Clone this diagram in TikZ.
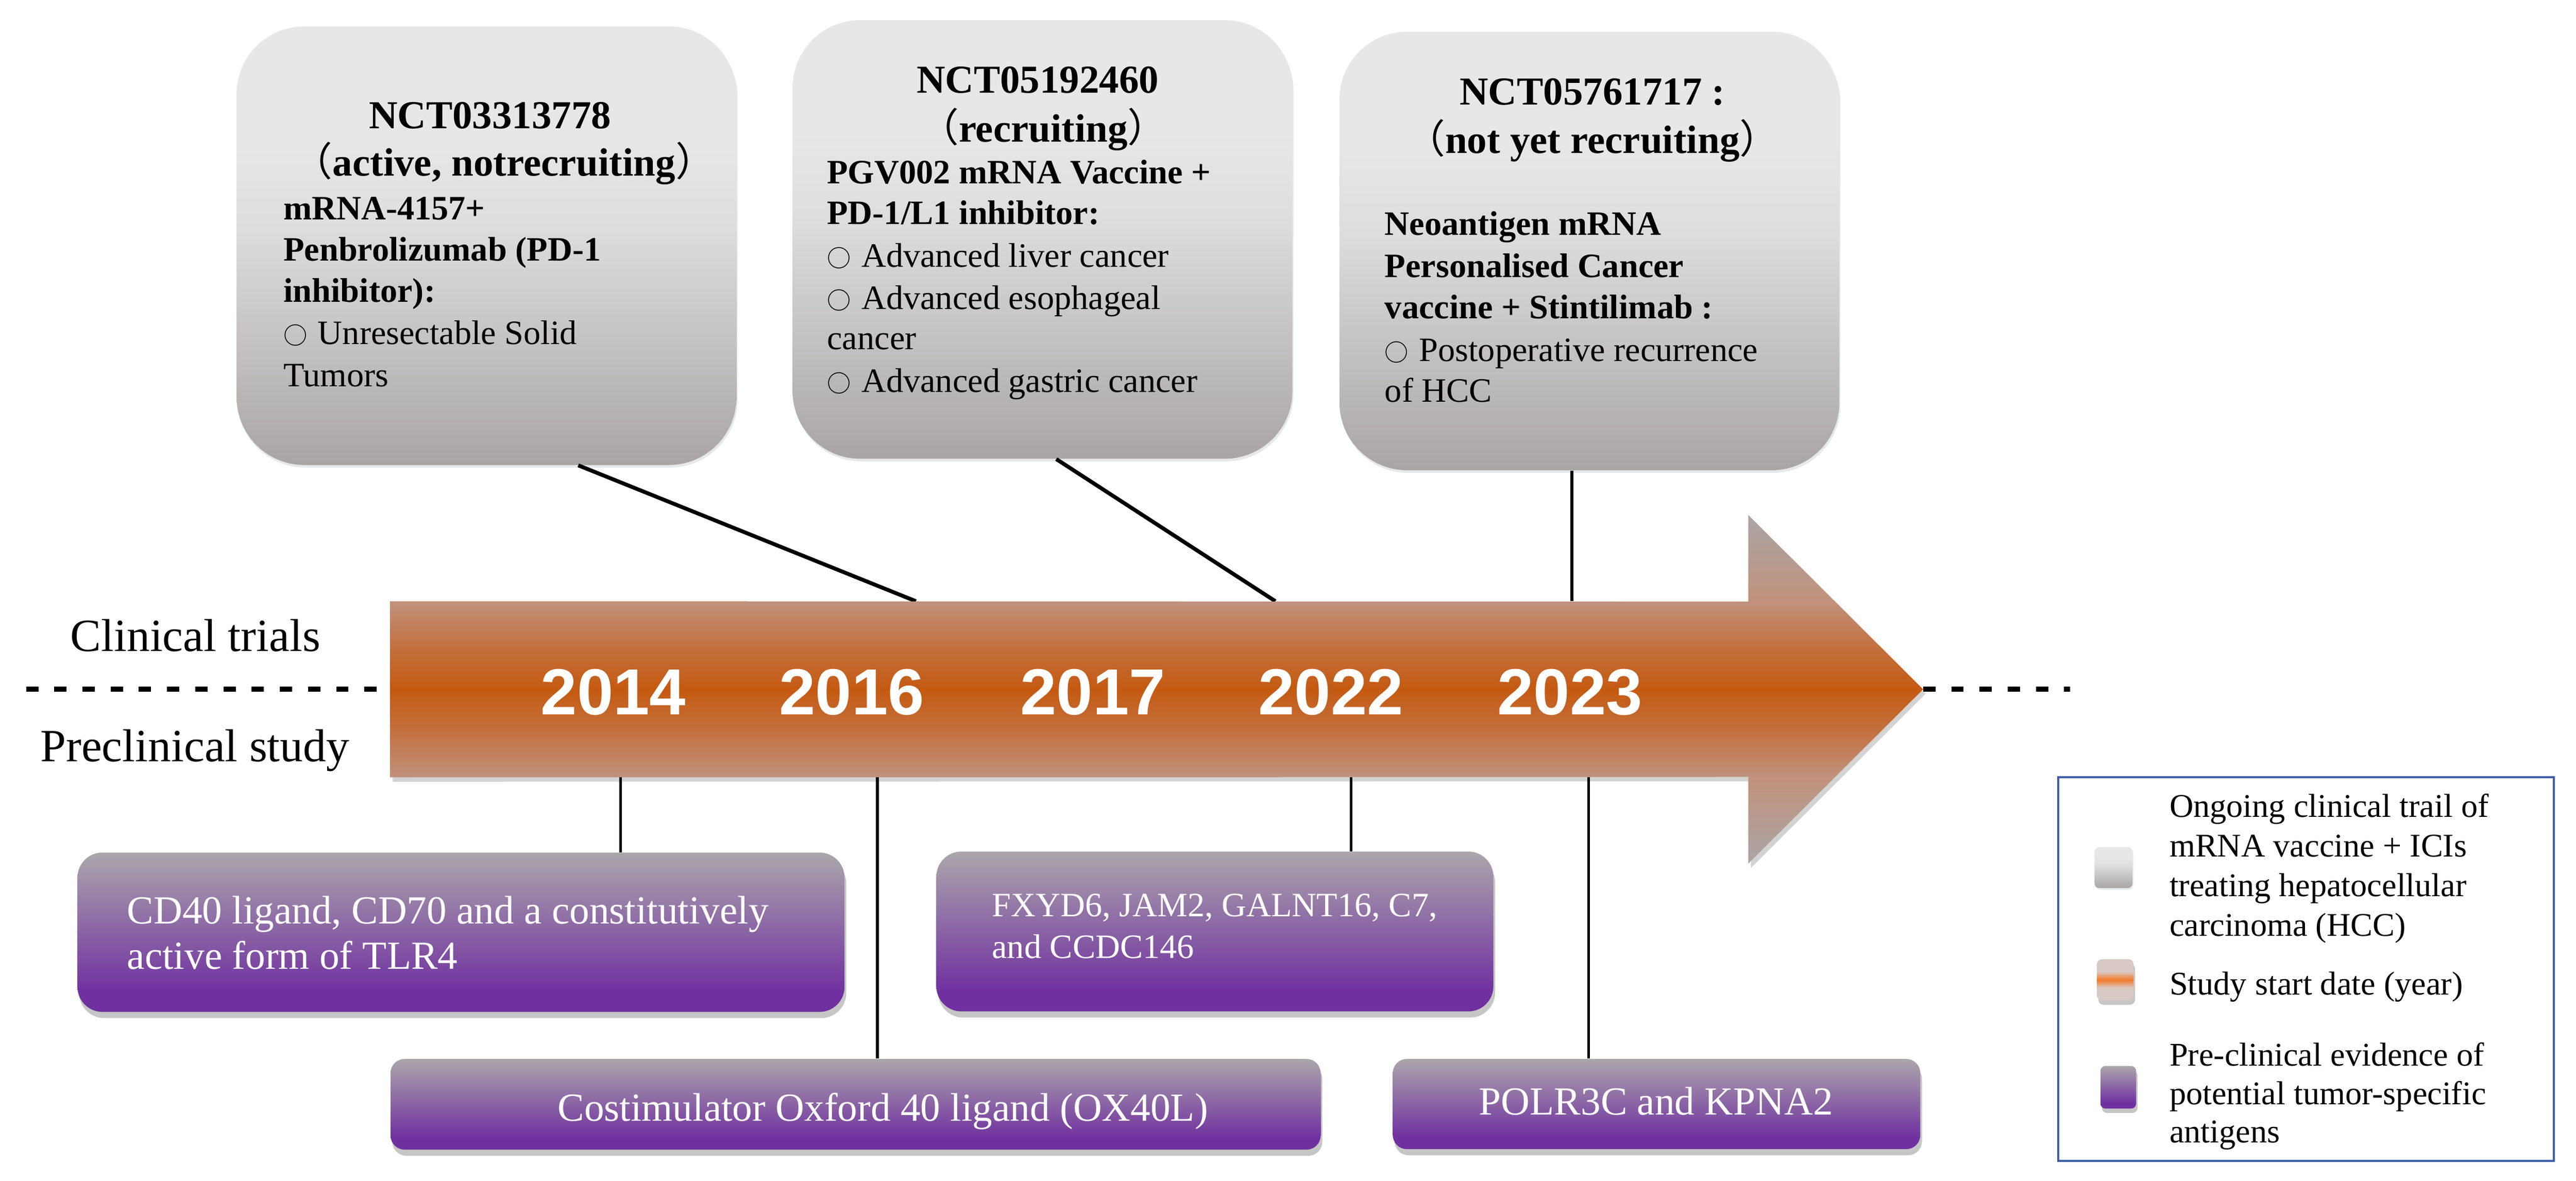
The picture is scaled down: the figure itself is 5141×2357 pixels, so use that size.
\documentclass[tikz,border=0pt]{standalone}
\usepackage{fontspec}
\setmainfont{Liberation Serif}
\newfontfamily\yearfont{Liberation Sans}
\newfontfamily\cjk{Noto Sans CJK SC}
\usetikzlibrary{shadows,calc}
\newcommand\wcirc{{\cjk\mdseries\fontsize{13.5}{16}\selectfont ○}\hspace{0.06em}}

\definecolor{g1}{HTML}{A9A5A5}
\definecolor{g2}{HTML}{C6C4C4}
\definecolor{g3}{HTML}{DDDDDD}
\definecolor{g4}{HTML}{E7E7E7}
\definecolor{p1}{HTML}{7030A0}
\definecolor{p2}{HTML}{ABA6AB}
\definecolor{agray}{HTML}{ABA5A6}
\definecolor{atan}{HTML}{C1917B}
\definecolor{amid}{HTML}{C3703F}
\definecolor{aorange}{HTML}{C55A11}
\definecolor{olight}{HTML}{D9C9C4}
\definecolor{oor}{HTML}{F37A2A}
\definecolor{legblue}{HTML}{3D5EA6}

\pgfdeclareverticalshading{grayshade}{100bp}{color(0bp)=(g1); color(25bp)=(g1); color(40bp)=(g2); color(52bp)=(g3); color(62bp)=(g4); color(100bp)=(g4)}
\pgfdeclareverticalshading{purpshade}{100bp}{color(0bp)=(p1); color(25bp)=(p1); color(31bp)=(p1); color(75bp)=(p2); color(100bp)=(p2)}
\pgfdeclareverticalshading{arrowshade}{100bp}{color(0bp)=(agray); color(25bp)=(agray); color(37.5bp)=(atan); color(44bp)=(amid); color(50bp)=(aorange); color(56bp)=(amid); color(62.5bp)=(atan); color(75bp)=(agray); color(100bp)=(agray)}
\pgfdeclareverticalshading{orangeshade}{100bp}{color(0bp)=(olight); color(25bp)=(olight); color(40bp)=(olight); color(50bp)=(oor); color(60bp)=(olight); color(75bp)=(olight); color(100bp)=(olight)}

\begin{document}
\begin{tikzpicture}[x=0.01cm,y=-0.01cm,
  topbox/.style={rectangle, rounded corners=1.35cm, shade, shading=grayshade, inner sep=0pt,
    minimum width=9.97cm, minimum height=8.75cm,
    drop shadow={shadow xshift=0.6pt, shadow yshift=-1.5pt, opacity=0.18}},
  pbox/.style={rectangle, rounded corners=0.5cm, shade, shading=purpshade, inner sep=0pt,
    drop shadow={shadow xshift=1pt, shadow yshift=-3.5pt, opacity=0.45}},
  pboxthin/.style={pbox, rounded corners=0.28cm},
  conn/.style={line width=2.2pt, black},
  vconn/.style={line width=1.6pt, black},
  dashln/.style={line width=2.8pt, black, dash pattern=on 7pt off 9pt},
  ttl/.style={anchor=base, inner sep=0pt, font=\fontsize{22.5}{27}\selectfont\bfseries},
  bdb/.style={anchor=base west, inner sep=0pt, font=\fontsize{19.4}{23.6}\selectfont\bfseries},
  bdr/.style={anchor=base west, inner sep=0pt, font=\fontsize{19.4}{23.6}\selectfont},
  yr/.style={anchor=base, inner sep=0pt, text=white, font=\fontsize{37}{40}\selectfont\yearfont\bfseries},
  side/.style={anchor=base, inner sep=0pt, font=\fontsize{26.2}{30}\selectfont},
  ptxt/.style={anchor=base west, inner sep=0pt, text=white, font=\fontsize{22.6}{27}\selectfont},
  ptxts/.style={anchor=base west, inner sep=0pt, text=white, font=\fontsize{19.4}{23.6}\selectfont},
  ptxtc/.style={anchor=base, inner sep=0pt, text=white, font=\fontsize{22.6}{27}\selectfont},
  legtxt/.style={anchor=base west, inner sep=0pt, font=\fontsize{18.8}{22}\selectfont},
  swatch/.style={rectangle, rounded corners=0.1cm, inner sep=0pt, shade}
]
\useasboundingbox (0,0) rectangle (5141,2357);

% ---------- top boxes ----------
\node[topbox] (box1) at (971,490.5) {};
\node[topbox] (box2) at (2080.5,478) {};
\node[topbox] (box3) at (3172,501) {};

\node[ttl] (t1a) at (978,257) {NCT03313778};
\node[ttl] (t1b) at (1006,351) {{\cjk\mdseries （}active, notrecruiting{\cjk\mdseries ）}};
\node[bdb] (t1c) at (565,439) {mRNA-4157+};
\node[bdb] (t1d) at (565,521) {Penbrolizumab (PD-1};
\node[bdb] (t1e) at (565,603) {inhibitor):};
\node[bdr] (t1f) at (565,687) {\wcirc{} Unresectable Solid};
\node[bdr] (t1g) at (565,772) {Tumors};

\node[ttl] (t2a) at (2071,186) {NCT05192460};
\node[ttl] (t2b) at (2082,283) {{\cjk\mdseries （}recruiting{\cjk\mdseries ）}};
\node[bdb] (t2c) at (1650,367) {PGV002 mRNA Vaccine +};
\node[bdb] (t2d) at (1650,448) {PD-1/L1 inhibitor:};
\node[bdr] (t2e) at (1650,533) {\wcirc{} Advanced liver cancer};
\node[bdr] (t2f) at (1650,617) {\wcirc{} Advanced esophageal};
\node[bdr] (t2g) at (1650,698) {cancer};
\node[bdr] (t2h) at (1650,783) {\wcirc{} Advanced gastric cancer};

\node[ttl] (t3a) at (3178,209) {NCT05761717 :};
\node[ttl] (t3b) at (3178,306) {{\cjk\mdseries （}not yet recruiting{\cjk\mdseries ）}};
\node[bdb] (t3c) at (2763,469) {Neoantigen mRNA};
\node[bdb] (t3d) at (2763,554) {Personalised Cancer};
\node[bdb] (t3e) at (2763,636) {vaccine + Stintilimab :};
\node[bdr] (t3f) at (2763,721) {\wcirc{} Postoperative recurrence};
\node[bdr] (t3g) at (2763,802) {of HCC};

% ---------- timeline ----------
\node[inner sep=0pt, minimum width=27.09cm, minimum height=3.5cm] (tl) at (2134.5,1376) {};
\coordinate (tip) at (3838,1376);
\coordinate (dl) at (52,1376);
\coordinate (dr) at (4131,1376);

\draw[dashln] (dl) -- (tl.west);
\draw[dashln] (tip) -- (dr);

% connectors (top)
\draw[conn] ([xshift=1.83cm]box1.south) -- ([xshift=-3.065cm]tl.north);
\draw[conn] ([xshift=0.275cm]box2.south) -- ([xshift=4.105cm]tl.north);
\coordinate (q3) at ([xshift=-0.35cm]box3.south);
\draw[vconn] (q3) -- (q3 |- tl.north);

% arrow
\path[shade, shading=arrowshade, drop shadow={shadow xshift=1.5pt, shadow yshift=-2.5pt, opacity=0.35}]
  (tl.north west) -- (3489,1201) -- (3489,1028) -- (tip) -- (3489,1724) -- (3489,1551) -- (tl.south west) -- cycle;

\node[yr] (y14) at (1224,1427) {2014};
\node[yr] (y16) at (1700,1427) {2016};
\node[yr] (y17) at (2181,1427) {2017};
\node[yr] (y22) at (2656,1427) {2022};
\node[yr] (y23) at (3133,1427) {2023};

\node[side] (clin) at (390,1300) {Clinical trials};
\node[side] (pre) at (389,1520) {Preclinical study};

% ---------- bottom boxes ----------
\node[pbox, minimum width=15.3cm, minimum height=3.18cm] (b1) at (920,1861) {};
\node[pbox, minimum width=11.11cm, minimum height=3.19cm] (b2) at (2424.5,1859.5) {};
\node[pboxthin, minimum width=18.55cm, minimum height=1.81cm] (b3) at (1707.5,2204.5) {};
\node[pboxthin, minimum width=10.52cm, minimum height=1.8cm] (b4) at (3306,2204) {};

\coordinate (p14) at ([xshift=-8.955cm]tl.south);
\coordinate (p16) at ([xshift=-3.835cm]tl.south);
\coordinate (p22) at ([xshift=5.615cm]tl.south);
\coordinate (p23) at ([xshift=10.355cm]tl.south);
\draw[vconn] (p14) -- (p14 |- b1.north);
\draw[vconn] (p16) -- (p16 |- b3.north);
\draw[vconn] (p22) -- (p22 |- b2.north);
\draw[vconn] (p23) -- (p23 |- b4.north);

\node[ptxt] (b1a) at (253,1844) {CD40 ligand, CD70 and a constitutively};
\node[ptxt] (b1b) at (253,1935) {active form of TLR4};
\node[ptxts] (b2a) at (1979,1830) {FXYD6, JAM2, GALNT16, C7,};
\node[ptxts] (b2b) at (1979,1913) {and CCDC146};
\node[ptxtc] (b3a) at (1762,2238) {Costimulator Oxford 40 ligand (OX40L)};
\node[ptxtc] (b4a) at (3305,2225) {POLR3C and KPNA2};

% ---------- legend ----------
\node[draw=legblue, line width=1.2pt, inner sep=0pt, minimum width=9.88cm, minimum height=7.65cm] (leg) at (4602,1934.5) {};
\node[swatch, shading=grayshade, minimum width=0.76cm, minimum height=0.82cm,
  drop shadow={shadow xshift=0.5pt, shadow yshift=-1pt, opacity=0.15}] (sw1) at (4218,1732) {};
\node[swatch, shading=orangeshade, minimum width=0.73cm, minimum height=0.82cm,
  drop shadow={shadow xshift=0.8pt, shadow yshift=-2.5pt, opacity=0.45}] (sw2) at (4221.5,1956) {};
\node[swatch, shading=purpshade, minimum width=0.71cm, minimum height=0.85cm,
  drop shadow={shadow xshift=0.8pt, shadow yshift=-2.5pt, opacity=0.45}] (sw3) at (4227.5,2170.5) {};

\node[legtxt] (l1) at (4329,1631) {Ongoing clinical trail of};
\node[legtxt] (l2) at (4329,1710) {mRNA vaccine + ICIs};
\node[legtxt] (l3) at (4329,1790) {treating hepatocellular};
\node[legtxt] (l4) at (4329,1869) {carcinoma (HCC)};
\node[legtxt] (l5) at (4329,1986) {Study start date (year)};
\node[legtxt] (l6) at (4329,2128) {Pre-clinical evidence of};
\node[legtxt] (l7) at (4329,2205) {potential tumor-specific};
\node[legtxt] (l8) at (4329,2281) {antigens};
\end{tikzpicture}
\end{document}
